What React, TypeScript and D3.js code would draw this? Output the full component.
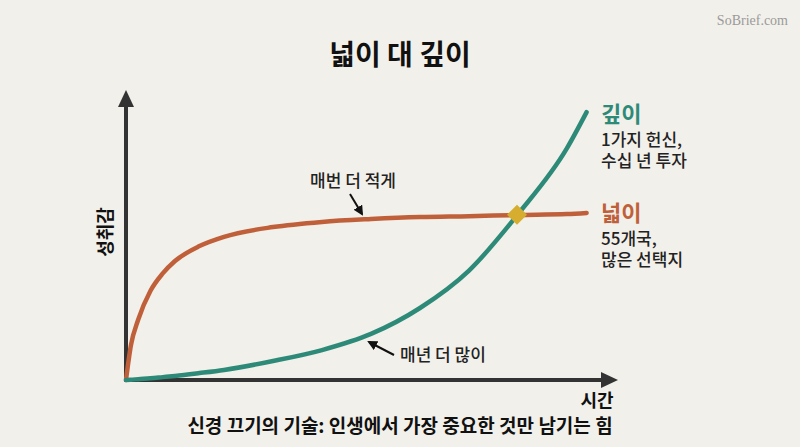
import React, { useEffect, useRef } from 'react';
import * as d3 from 'd3';

// time (arbitrary units) and achievement values
const years = [0, 0.1, 0.25, 0.5, 0.75, 1, 1.5, 2, 3, 4, 5, 6, 7, 8, 9, 9.4];
const breadth = [0, 12, 21, 31, 37, 41.3, 46.5, 49.7, 53.1, 54.9, 55.9, 56.6, 56.9, 57.3, 57.6, 58];
const depth = [0, 0.1, 0.3, 0.6, 1, 1.4, 2.4, 3.5, 6.6, 10.4, 16, 25, 38, 57.6, 80.5, 93];

const crossing = { t: 7.98, v: 57.4 };

const legendDepth = ['깊이', '1가지 헌신,', '수십 년 투자'];
const legendBreadth = ['넓이', '55개국,', '많은 선택지'];

const FONT = '"Noto Sans CJK KR", "Noto Sans", sans-serif';
const TEAL = '#2e8a78';
const RUST = '#c0603a';
const INK = '#222';

const App = () => {
  const ref = useRef(null);

  useEffect(() => {
    const width = 800;
    const height = 447;
    const svg = d3.select(ref.current);
    svg.selectAll('*').remove();
    svg.attr('viewBox', [0, 0, width, height]);

    svg.append('rect').attr('width', width).attr('height', height).attr('fill', '#f2f0ea');

    const x = d3.scaleLinear().domain([0, 10]).range([126, 616]);
    const y = d3.scaleLinear().domain([0, 100]).range([380, 92]);

    const defs = svg.append('defs');
    defs.append('marker')
      .attr('id', 'arr')
      .attr('viewBox', '0 0 10 10')
      .attr('refX', 8).attr('refY', 5)
      .attr('markerWidth', 5).attr('markerHeight', 5)
      .attr('orient', 'auto')
      .append('path').attr('d', 'M0,0 L10,5 L0,10 z').attr('fill', '#111');

    // axes
    svg.append('line')
      .attr('x1', x(0)).attr('y1', y(0) + 2)
      .attr('x2', x(0)).attr('y2', y(100) + 12)
      .attr('stroke', '#333').attr('stroke-width', 4);
    svg.append('path')
      .attr('d', `M${x(0)},${y(100) - 2} L${x(0) - 8},${y(100) + 15} L${x(0) + 8},${y(100) + 15} Z`)
      .attr('fill', '#333');
    svg.append('line')
      .attr('x1', x(0) - 2).attr('y1', y(0))
      .attr('x2', x(10) - 12).attr('y2', y(0))
      .attr('stroke', '#333').attr('stroke-width', 4);
    svg.append('path')
      .attr('d', `M${x(10) + 2},${y(0)} L${x(10) - 15},${y(0) - 8} L${x(10) - 15},${y(0) + 8} Z`)
      .attr('fill', '#333');

    const line = d3.line()
      .x((d) => x(d[0]))
      .y((d) => y(d[1]))
      .curve(d3.curveMonotoneX);

    svg.append('path')
      .attr('d', line(years.map((t, i) => [t, breadth[i]])))
      .attr('fill', 'none').attr('stroke', RUST).attr('stroke-width', 4.5)
      .attr('stroke-linecap', 'round');
    svg.append('path')
      .attr('d', line(years.map((t, i) => [t, depth[i]])))
      .attr('fill', 'none').attr('stroke', TEAL).attr('stroke-width', 4.5)
      .attr('stroke-linecap', 'round');

    // crossing marker
    const cx = x(crossing.t);
    const cy = y(crossing.v);
    svg.append('path')
      .attr('d', `M${cx},${cy - 10} L${cx + 10},${cy} L${cx},${cy + 10} L${cx - 10},${cy} Z`)
      .attr('fill', '#d6ad2e');

    // title
    svg.append('text')
      .attr('x', 400).attr('y', 65)
      .attr('text-anchor', 'middle')
      .style('font-family', FONT).style('font-size', '28px').style('font-weight', 700)
      .attr('fill', '#111')
      .text('넓이 대 깊이');

    // axis labels
    svg.append('text')
      .attr('x', 597).attr('y', 407)
      .attr('text-anchor', 'middle')
      .style('font-family', FONT).style('font-size', '18px').style('font-weight', 700)
      .attr('fill', '#111')
      .text('시간');
    svg.append('text')
      .attr('transform', `translate(112,232) rotate(-90)`)
      .attr('text-anchor', 'middle')
      .style('font-family', FONT).style('font-size', '18px').style('font-weight', 700)
      .attr('fill', '#111')
      .text('성취감');

    // legends
    const legend = (lines, color, top) => {
      lines.forEach((s, i) => {
        svg.append('text')
          .attr('x', 601).attr('y', top + (i === 0 ? 0 : 3 + i * 21))
          .style('font-family', FONT)
          .style('font-size', i === 0 ? '22px' : '17px')
          .style('font-weight', i === 0 ? 700 : 500)
          .attr('fill', i === 0 ? color : INK)
          .text(s);
      });
    };
    legend(legendDepth, TEAL, 122);
    legend(legendBreadth, RUST, 221);

    // annotations
    svg.append('text')
      .attr('x', 353).attr('y', 187)
      .attr('text-anchor', 'middle')
      .style('font-family', FONT).style('font-size', '17px').style('font-weight', 500)
      .attr('fill', INK)
      .text('매번 더 적게');
    svg.append('line')
      .attr('x1', 350).attr('y1', 194).attr('x2', 362).attr('y2', 214)
      .attr('stroke', '#111').attr('stroke-width', 2)
      .attr('marker-end', 'url(#arr)');

    svg.append('text')
      .attr('x', 400).attr('y', 361)
      .style('font-family', FONT).style('font-size', '17px').style('font-weight', 500)
      .attr('fill', INK)
      .text('매년 더 많이');
    svg.append('line')
      .attr('x1', 394).attr('y1', 355).attr('x2', 369).attr('y2', 342)
      .attr('stroke', '#111').attr('stroke-width', 2)
      .attr('marker-end', 'url(#arr)');

    // footer
    svg.append('text')
      .attr('x', 400).attr('y', 433)
      .attr('text-anchor', 'middle')
      .style('font-family', FONT).style('font-size', '19px').style('font-weight', 700)
      .attr('fill', '#111')
      .text('신경 끄기의 기술: 인생에서 가장 중요한 것만 남기는 힘');

    // watermark
    svg.append('text')
      .attr('x', 788).attr('y', 25)
      .attr('text-anchor', 'end')
      .style('font-family', '"Liberation Serif", "DejaVu Serif", serif')
      .style('font-size', '14px')
      .attr('fill', '#9a9a9a')
      .text('SoBrief.com');
  }, []);

  return (
    <svg
      ref={ref}
      width={800}
      height={447}
      style={{ position: 'fixed', top: 0, left: 0, display: 'block' }}
    />
  );
};

export default App;
